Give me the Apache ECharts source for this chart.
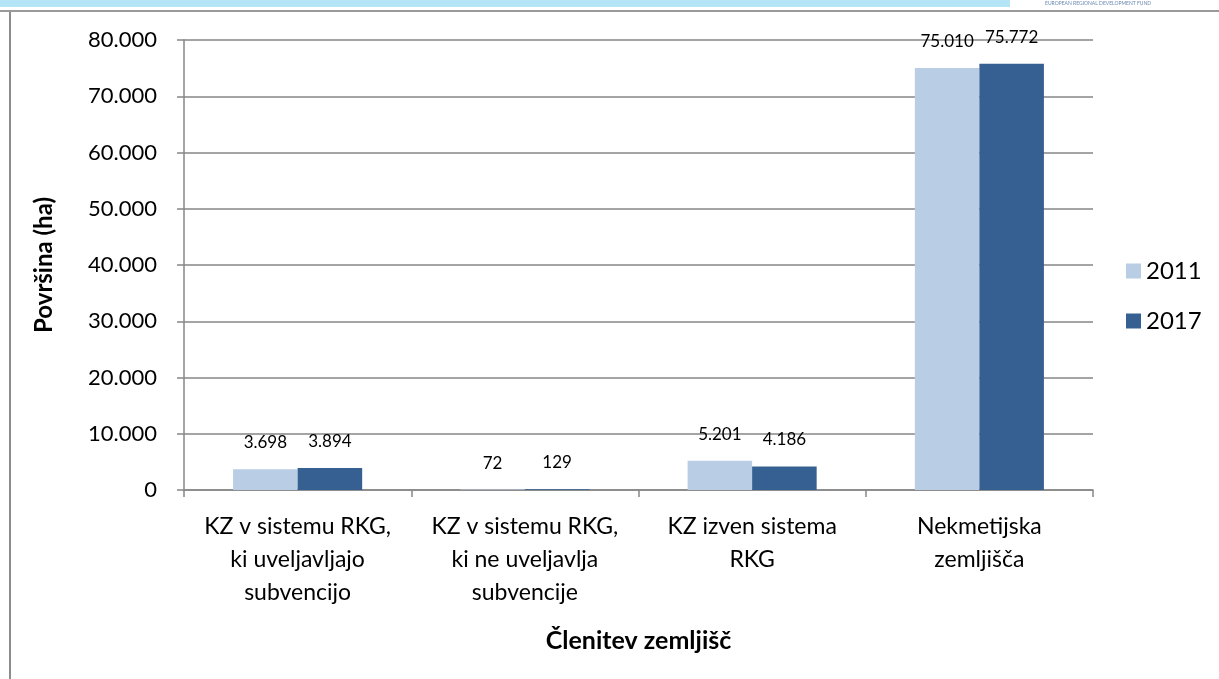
<!DOCTYPE html>
<html>
<head>
<meta charset="utf-8">
<script src="https://cdn.jsdelivr.net/npm/echarts@6/dist/echarts.min.js"></script>
<style>
  html, body { margin: 0; padding: 0; background: #fff; }
  #chart { width: 1219px; height: 679px; }
</style>
</head>
<body>
<div id="chart"></div>
<script>
// podatki
const categories = [
  'KZ v sistemu RKG,\nki uveljavljajo\nsubvencijo',
  'KZ v sistemu RKG,\nki ne uveljavlja\nsubvencije',
  'KZ izven sistema\nRKG',
  'Nekmetijska\nzemljišča'
]
const values2011 = [3698, 72, 5201, 75010]
const values2017 = [3894, 129, 4186, 75772]
const seriesNames = ['2011', '2017']
const colors = ['#b9cde5', '#376092']

const font = 'Lato, "Open Sans", sans-serif'

// pike kot ločilo tisočic
const fmt = v => String(v).replace(/\B(?=(\d{3})+(?!\d))/g, '.')

const chart = echarts.init(document.getElementById('chart'))

const barSeries = (name, data, color) => ({
  name: name,
  type: 'bar',
  data: data,
  barWidth: '28.4%',
  barGap: '0%',
  itemStyle: { color: color },
  label: {
    show: true,
    position: 'top',
    distance: 18,
    color: '#000',
    fontSize: 17,
    fontFamily: font,
    formatter: p => fmt(p.value)
  }
})

chart.setOption({
  animation: false,
  textStyle: { fontFamily: font },
  graphic: [
    { type: 'rect', shape: { x: 0, y: 0, width: 1010, height: 7 }, style: { fill: '#b3e5f7' } },
    { type: 'text', left: 1045, top: 1, style: { text: 'EUROPEAN REGIONAL DEVELOPMENT FUND', fontSize: 5, fill: '#6a88b0', fontFamily: font } },
    { type: 'rect', shape: { x: 10, y: 11, width: 1220, height: 680 }, style: { fill: 'none', stroke: '#8c8c8c', lineWidth: 2 } },
    { type: 'rect', shape: { x: 0, y: 10, width: 1219, height: 2 }, style: { fill: '#9a9a9a' } }
  ],
  legend: {
    orient: 'vertical',
    left: 1121,
    top: 254,
    itemWidth: 15,
    itemHeight: 15,
    itemGap: 26,
    icon: 'rect',
    data: seriesNames,
    textStyle: { fontSize: 24, color: '#000', fontFamily: font }
  },
  grid: {
    left: 184,
    right: 126,
    top: 40,
    bottom: 189
  },
  xAxis: {
    type: 'category',
    data: categories,
    name: 'Členitev zemljišč',
    nameLocation: 'middle',
    nameGap: 138,
    nameTextStyle: { fontSize: 25, fontWeight: 'bold', color: '#000', fontFamily: font },
    axisLine: { lineStyle: { color: '#868686', width: 1.5 } },
    axisTick: { show: true, length: 7, interval: 0, lineStyle: { color: '#868686', width: 1.5 } },
    axisLabel: {
      interval: 0,
      margin: 20,
      fontSize: 23,
      lineHeight: 33,
      color: '#000',
      fontFamily: font
    }
  },
  yAxis: {
    type: 'value',
    min: 0,
    max: 80000,
    interval: 10000,
    name: 'Površina (ha)',
    nameLocation: 'middle',
    nameGap: 128,
    nameTextStyle: { fontSize: 24, fontWeight: 'bold', color: '#000', fontFamily: font },
    axisLine: { show: true, lineStyle: { color: '#868686', width: 1.5 } },
    axisTick: { show: true, length: 7, lineStyle: { color: '#868686', width: 1.5 } },
    splitLine: { lineStyle: { color: '#868686', width: 1.5 } },
    axisLabel: {
      margin: 27,
      fontSize: 22,
      color: '#000',
      fontFamily: font,
      formatter: v => fmt(v)
    }
  },
  series: [
    barSeries(seriesNames[0], values2011, colors[0]),
    barSeries(seriesNames[1], values2017, colors[1])
  ]
})

window.addEventListener('resize', () => chart.resize())
</script>
</body>
</html>
